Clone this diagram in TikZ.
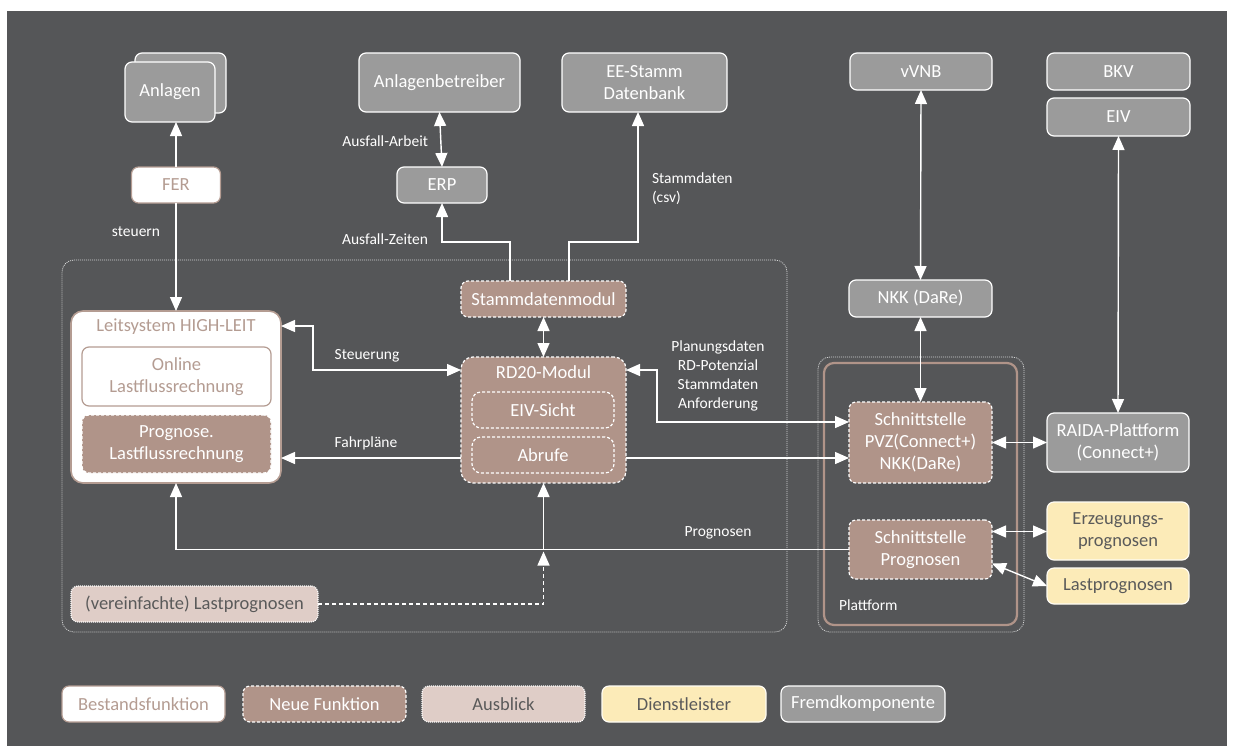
\documentclass[tikz,border=0pt]{standalone}
\usepackage{fontspec}
\setmainfont{Carlito}
\usetikzlibrary{arrows.meta, calc, positioning}
\definecolor{bgray}{HTML}{555658}
\definecolor{fremdgray}{HTML}{9B9B9B}
\definecolor{neubrown}{HTML}{B09489}
\definecolor{ausblrose}{HTML}{DFCDC7}
\definecolor{dienstgelb}{HTML}{FCEBB8}
\definecolor{bestandrand}{HTML}{B49C92}
\definecolor{darktext}{HTML}{5A5A5A}
\newcommand{\boxfont}{\fontsize{18.5}{22}\selectfont}
\newcommand{\lblfont}{\fontsize{15.5}{19}\selectfont}

\begin{document}
\begin{tikzpicture}[
    x=1pt, y=-1pt,
    >={Triangle[length=14pt, width=12pt]},
    every node/.style={font=\boxfont, align=center, inner sep=0pt, outer sep=0pt},
    base/.style    ={rounded corners=7pt, line width=1.2pt},
    fremd/.style   ={base, draw=white, fill=fremdgray, text=white},
    neufkt/.style  ={base, draw=white, fill=neubrown, text=white,
                     dash pattern=on 3pt off 2pt},
    bestand/.style ={base, draw=bestandrand, fill=white, text=bestandrand},
    ausbl/.style   ={base, draw=white, fill=ausblrose, text=darktext,
                     dash pattern=on 1pt off 1pt},
    dienst/.style  ={base, draw=white!85!dienstgelb, fill=dienstgelb, text=darktext},
    group/.style   ={draw=white!75!bgray, rounded corners=12pt, line width=0.8pt,
                     dash pattern=on 1pt off 1pt},
    lbl/.style     ={font=\lblfont, text=white},
    flow/.style    ={->, draw=white, line width=1.4pt},
    biflow/.style  ={<->, draw=white, line width=1.4pt},
]
% background
\useasboundingbox (0,0) rectangle (1233,752);
\fill[white] (0,0) rectangle (1233,752);
\fill[bgray] (7,11) rectangle (1227,746);

% group frames
\node[group, minimum width=725pt, minimum height=372pt] (rdgroup) at (424.5,446) {};
\node[group, minimum width=206pt, minimum height=275pt] (platgroup) at (921,494.5) {};
\node[draw=neubrown, line width=2.2pt, rounded corners=10pt,
      minimum width=193pt, minimum height=262pt] (plattform) at (920.5,494) {};
\node[lbl, anchor=west] (plattlbl) at (839,605) {Plattform};

% top row
\node[fremd, minimum width=91pt, minimum height=60pt] (anlagenback) at (180.5,83) {};
\node[fremd, minimum width=90pt, minimum height=60pt] (anlagen) at (170,92) {Anlagen};
\node[bestand, minimum width=89pt, minimum height=36pt] (fer) at (176,185) {FER};
\node[fremd, minimum width=161pt, minimum height=59pt] (anlbetr) at (439.5,82.5) {Anlagenbetreiber};
\node[fremd, minimum width=90pt, minimum height=36pt] (erp) at (442,185) {ERP};
\node[fremd, minimum width=165pt, minimum height=59pt] (eestamm) at (644.5,82.5) {EE-Stamm\\Datenbank};
\node[fremd, minimum width=142pt, minimum height=37pt] (vvnb) at (921,71.5) {vVNB};
\node[fremd, minimum width=143pt, minimum height=37pt] (bkv) at (1118.5,71.5) {BKV};
\node[fremd, minimum width=143pt, minimum height=38pt] (eiv) at (1118.5,117) {EIV};
\node[fremd, minimum width=143pt, minimum height=37pt] (nkk) at (920.5,298.5) {NKK (DaRe)};

% Leitsystem
\node[bestand, line width=1.6pt, rounded corners=12pt,
      minimum width=210pt, minimum height=172pt] (leit) at (176,397) {};
\node[text=bestandrand] (leittitle) at (176,327) {Leitsystem HIGH-LEIT};
\node[bestand, minimum width=189pt, minimum height=59pt] (online) at (176.5,376.5)
   {Online\\Lastflussrechnung};
\node[neufkt, minimum width=189pt, minimum height=58pt] (proglfr) at (176.5,444)
   {Prognose.\\Lastflussrechnung};

% RD20
\node[neufkt, minimum width=165pt, minimum height=36pt] (stammmod) at (543.5,299) {Stammdatenmodul};
\node[neufkt, rounded corners=12pt, minimum width=165pt, minimum height=126pt] (rd20) at (543.5,420) {};
\node[text=white] (rd20title) at (543.5,372) {RD20-Modul};
\node[neufkt, fill=none, rounded corners=9pt, minimum width=142pt, minimum height=36pt] (eivsicht) at (543,410) {EIV-Sicht};
\node[neufkt, fill=none, rounded corners=9pt, minimum width=142pt, minimum height=36pt] (abrufe) at (543,455) {Abrufe};
\node[ausbl, minimum width=247pt, minimum height=36pt] (vereinf) at (194.5,604) {(vereinfachte) Lastprognosen};

% Plattform
\node[neufkt, minimum width=143pt, minimum height=81pt] (pvz) at (920.5,442.5)
   {Schnittstelle\\PVZ(Connect+)\\NKK(DaRe)};
\node[neufkt, minimum width=143pt, minimum height=59pt] (progsst) at (920.5,549.5)
   {Schnittstelle\\Prognosen};
\node[fremd, minimum width=142pt, minimum height=59pt] (raida) at (1118,442.5)
   {RAIDA-Plattform\\(Connect+)};
\node[dienst, minimum width=142pt, minimum height=58pt] (erzprog) at (1118,531)
   {Erzeugungs-\\prognosen};
\node[dienst, minimum width=142pt, minimum height=36pt] (lastprog) at (1118,586) {Lastprognosen};

% legend
\node[bestand, minimum width=163pt, minimum height=36pt] (legbest) at (143.5,704) {Bestandsfunktion};
\node[neufkt, minimum width=163pt, minimum height=36pt] (legneu) at (324.5,704) {Neue Funktion};
\node[ausbl, minimum width=163pt, minimum height=36pt] (legausbl) at (503.5,704) {Ausblick};
\node[dienst, minimum width=164pt, minimum height=36pt] (legdienst) at (684,704) {Dienstleister};
\node[fremd, minimum width=164pt, minimum height=36pt] (legfremd) at (863,704) {Fremdkomponente};

% bends
\coordinate (zeitbend) at (442,242);
\coordinate (csvbend) at (638,242);
\coordinate (steuerbend) at (313,370);
\coordinate (planbend) at (657,400);

% connectors
\draw[flow] (fer.north) -- (fer.north |- anlagen.south);
\draw[flow] (fer.south) -- (leit.north);
\draw[biflow] (anlbetr.south) -- (erp.north);
\draw[flow] ([xshift=-33.5pt]stammmod.north) |- (zeitbend) -- (erp.south);
\draw[flow] ([xshift=25.5pt]stammmod.north) |- (csvbend) -- (csvbend |- eestamm.south);
\draw[biflow] (stammmod.south) -- (rd20.north);
\draw[biflow] ([yshift=71pt]leit.east) -| (steuerbend) -- ([yshift=50pt]rd20.west);
\draw[flow] ([yshift=-38pt]rd20.west) -- ([yshift=-38pt]rd20.west -| leit.east);
\draw[biflow] ([yshift=50pt]rd20.east) -| (planbend) |- ([yshift=20.5pt]pvz.west);
\draw[flow] ([yshift=-38pt]rd20.east) -- ([yshift=-38pt]rd20.east -| pvz.west);
\draw[flow] (progsst.west) -| (leit.south);
\draw[flow] (progsst.west -| rd20.south) -- (rd20.south);
\draw[flow, dash pattern=on 4pt off 3pt] (vereinf.east) -| ($(progsst.west -| rd20.south)+(0,2)$);
\draw[biflow] (vvnb.south) -- (nkk.north);
\draw[biflow] (nkk.south) -- (pvz.north);
\draw[biflow] (eiv.south) -- (raida.north);
\draw[biflow] (pvz.east) -- (raida.west);
\draw[biflow] ([yshift=18pt]progsst.east) -- ([yshift=18pt]progsst.east -| erzprog.west);
\draw[biflow] ([yshift=-14pt]progsst.east) -- (lastprog.west);

% connector labels
\node[lbl] (lblsteuern) at (136,232) {steuern};
\node[lbl, anchor=east] (lblarbeit) at (428,141) {Ausfall-Arbeit};
\node[lbl, anchor=east] (lblzeiten) at (428,239) {Ausfall-Zeiten};
\node[lbl, align=left, anchor=west] (lblcsv) at (652,189) {Stammdaten\\(csv)};
\node[lbl] (lblsteuerung) at (367,356) {Steuerung};
\node[lbl] (lblfahrplan) at (366,443) {Fahrpläne};
\node[lbl] (lblplanung) at (718,376) {Planungsdaten\\RD-Potenzial\\Stammdaten\\Anforderung};
\node[lbl] (lblprognosen) at (718,533) {Prognosen};
\end{tikzpicture}
\end{document}
